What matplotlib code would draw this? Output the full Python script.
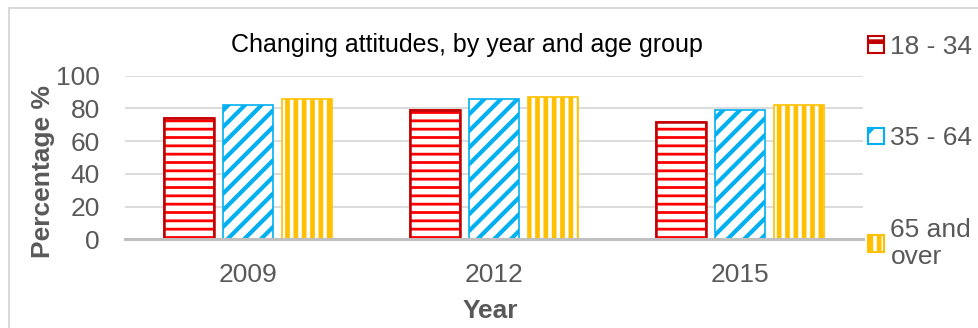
import numpy as np
import matplotlib
matplotlib.use("Agg")
import matplotlib.pyplot as plt
from matplotlib.patches import Rectangle, Patch

# --- données ---
years = ["2009", "2012", "2015"]
age_groups = ["18 - 34", "35 - 64", "65 and\nover"]
val_18_34 = [74, 79, 72]
val_35_64 = [82, 86, 79]
val_65_over = [86, 87, 82]
y_ticks = [0, 20, 40, 60, 80, 100]

plt.rcParams['font.family'] = ['Liberation Sans', 'DejaVu Sans']
GREY = '#595959'

fig = plt.figure(figsize=(9.79, 3.28), dpi=100)
ax = fig.add_axes([125/979, 1 - 239.3/328, (863 - 125)/979, (239.3 - 75.7)/328])

x = np.arange(len(years))
w = 0.2
step = 0.24

def set_hlw(artists, hlw):
    for p in artists:
        if hasattr(p, 'set_hatch_linewidth'):
            p.set_hatch_linewidth(hlw)

def bars(offset, values, color, hatch, hlw, label):
    plt.rcParams['hatch.linewidth'] = hlw
    b = ax.bar(x + offset, values, w, facecolor='white', edgecolor=color,
               hatch=hatch, linewidth=1.2, label=label, zorder=3)
    set_hlw(b, hlw)
    return b

b1 = bars(-step, val_18_34, '#FF0000', '--', 2.0, age_groups[0])
# contour rouge foncé
ax.bar(x - step, val_18_34, w, fill=False, edgecolor='#C00000', linewidth=1.8, zorder=4)
b2 = bars(0, val_35_64, '#00B0F0', '//', 3.0, age_groups[1])
b3 = bars(step, val_65_over, '#FFC000', '||', 3.4, age_groups[2])

ax.set_xlim(-0.5, 2.5)
ax.set_ylim(0, 100)
ax.set_yticks(y_ticks)
ax.set_xticks(x)
ax.set_xticklabels(years)
ax.tick_params(length=0, labelsize=19, labelcolor=GREY)
ax.tick_params(axis='y', pad=18)
ax.tick_params(axis='x', pad=17)
ax.grid(axis='y', color='#D9D9D9', linewidth=1.3, zorder=0)
ax.set_axisbelow(True)
for s in ['top', 'right', 'left']:
    ax.spines[s].set_visible(False)
ax.spines['bottom'].set_color('#BFBFBF')
ax.spines['bottom'].set_linewidth(2.2)
ax.spines['bottom'].set_zorder(5)

ax.set_ylabel("Percentage %", fontsize=19, fontweight='bold', color=GREY)
ax.yaxis.set_label_coords((43 - 125)/738, (239.3 - 172)/163.6)
ax.set_xlabel("Year", fontsize=19, fontweight='bold', color=GREY)
ax.xaxis.set_label_coords((490.5 - 125)/738, -(311 - 239.3)/163.6)
ax.xaxis.label.set_va('center')
ax.yaxis.label.set_va('center')
fig.text(466.7/979, 1 - 45/328, "Changing attitudes, by year and age group",
         fontsize=18, ha='center', va='center', color='black')

# poignées de légende (motif plus simple, comme dans Excel)
plt.rcParams['hatch.linewidth'] = 2.0
h1 = Patch(facecolor='white', edgecolor='#C00000', hatch='-', linewidth=1.5)
plt.rcParams['hatch.linewidth'] = 3.0
h2 = Patch(facecolor='white', edgecolor='#00B0F0', hatch='/', linewidth=1.5)
plt.rcParams['hatch.linewidth'] = 3.4
h3 = Patch(facecolor='white', edgecolor='#FFC000', hatch='||', linewidth=1.5)
set_hlw([h1], 2.0)
set_hlw([h2], 3.0)
set_hlw([h3], 3.4)

leg = ax.legend(handles=[h1, h2, h3], labels=age_groups, loc='upper left',
                bbox_to_anchor=(868/979, 1 - 35/328),
                bbox_transform=fig.transFigure, frameon=False, fontsize=19,
                labelcolor=GREY, handlelength=0.6, handleheight=0.6,
                handletextpad=0.25, labelspacing=2.55, borderpad=0, borderaxespad=0)

# cadre du graphique
fig.add_artist(Rectangle((9/979, -0.1), 2, 1 - 8/328 + 0.1, transform=fig.transFigure,
                         fill=False, edgecolor='#D9D9D9', linewidth=1.5))

fig.savefig("out.png", dpi=100)
